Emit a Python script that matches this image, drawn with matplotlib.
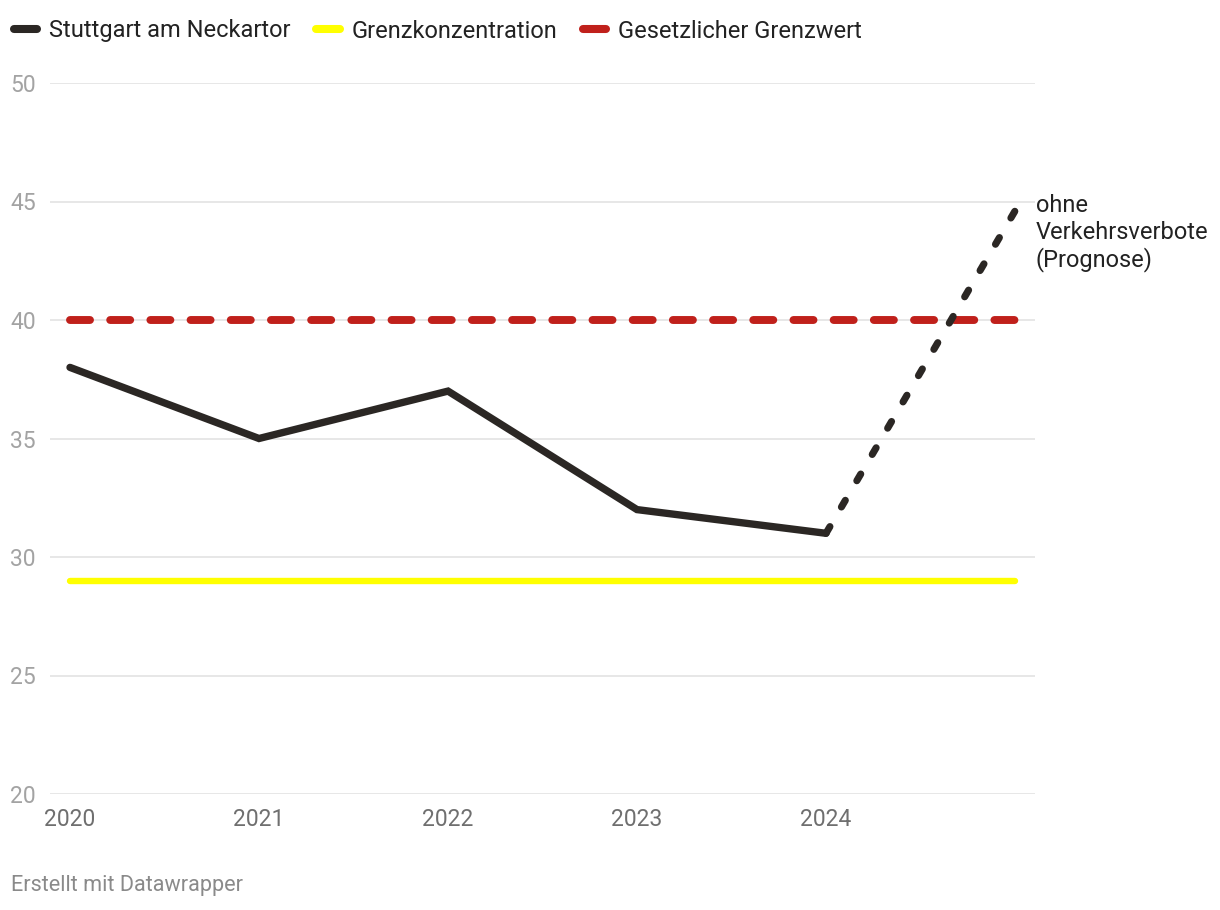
import matplotlib
matplotlib.use("Agg")
import matplotlib.pyplot as plt
from matplotlib.lines import Line2D

plt.rcParams['font.family'] = ['Roboto', 'DejaVu Sans']

years = [2020, 2021, 2022, 2023, 2024]
stuttgart = [38, 35, 37, 32, 31]
prognose_years = [2024, 2025]
prognose = [31, 44.6]
limit_years = [2020, 2025]
grenzkonzentration = [29, 29]
grenzwert = [40, 40]
yticks = [20, 25, 30, 35, 40, 45, 50]
xticks = [2020, 2021, 2022, 2023, 2024]

W, H = 1220, 910
fig = plt.figure(figsize=(W / 100, H / 100), dpi=100)
ax = fig.add_axes([50 / W, 1 - 794 / H, (1035 - 50) / W, (794 - 83) / H])

ax.set_xlim(2020 - 20 / 189, 2025 + 20 / 189)
ax.set_ylim(20, 50)

for s in ax.spines.values():
    s.set_visible(False)
ax.set_yticks(yticks)
ax.set_xticks(xticks)
ax.grid(axis='y', color='#e3e3e3', linewidth=1.2)
ax.set_axisbelow(True)
ax.tick_params(axis='y', length=0, pad=28.8, labelsize=16.5, labelcolor='#a3a3a3')
ax.tick_params(axis='x', length=0, pad=10, labelsize=16.5, labelcolor='#6f6f6f')
for lab in ax.get_yticklabels():
    lab.set_horizontalalignment('left')

black = '#2b2724'
yellow = '#ffff00'
red = '#c0201b'

ax.plot(limit_years, grenzkonzentration, color=yellow, lw=4.6,
        solid_capstyle='round', clip_on=False, zorder=2)
ax.plot(limit_years, grenzwert, color=red, lw=5.7, linestyle=(0, (2.526, 2.551)),
        dash_capstyle='round', clip_on=False, zorder=3)
ax.plot(years, stuttgart, color=black, lw=5.3, solid_capstyle='round',
        solid_joinstyle='miter', clip_on=False, zorder=4)
ax.plot(prognose_years, prognose, color=black, lw=5.1, linestyle=(0, (1.1, 3.2)),
        dash_capstyle='round', clip_on=False, zorder=4)

ax.annotate('ohne\nVerkehrsverbote\n(Prognose)', xy=(2025, 44.6),
            xytext=(15, 12), textcoords='offset points', ha='left', va='top',
            fontsize=17, color='#222222', linespacing=1.18,
            annotation_clip=False)

handles = [
    Line2D([], [], color=black, lw=5.8, solid_capstyle='round'),
    Line2D([], [], color=yellow, lw=5.8, solid_capstyle='round'),
    Line2D([], [], color=red, lw=5.8, solid_capstyle='round'),
]
labels = ['Stuttgart am Neckartor', 'Grenzkonzentration', 'Gesetzlicher Grenzwert']
leg = fig.legend(handles, labels, loc='center left',
                 bbox_to_anchor=(14 / W, 1 - 31 / H), ncol=3, frameon=False,
                 fontsize=17, handlelength=0.98, handletextpad=0.5,
                 columnspacing=1.1, borderaxespad=0, borderpad=0)
for t in leg.get_texts():
    t.set_color('#222222')

fig.text(11 / W, 1 - 886 / H, 'Erstellt mit Datawrapper', ha='left', va='center',
         fontsize=15.6, color='#8a8a8a')

fig.savefig('out.png', dpi=100)
